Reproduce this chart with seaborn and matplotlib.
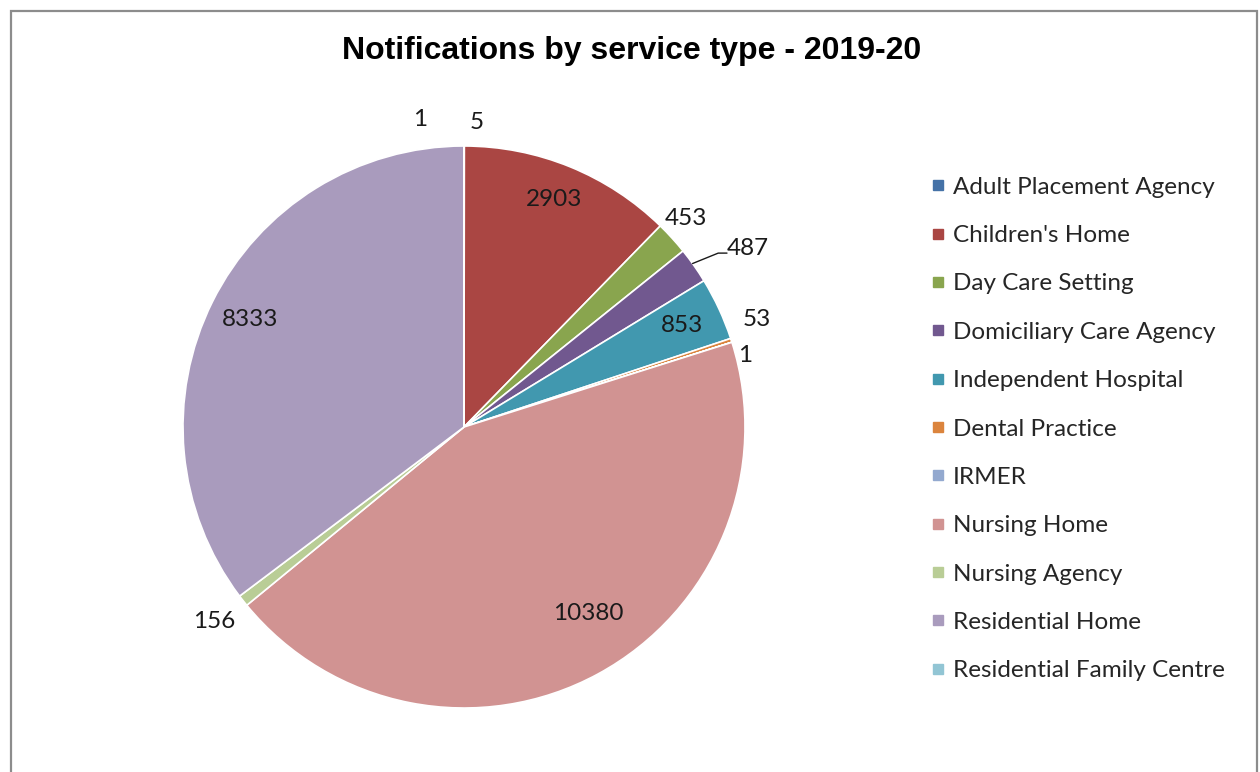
import numpy as np
import matplotlib
matplotlib.use("Agg")
import matplotlib.pyplot as plt
from matplotlib.lines import Line2D
from matplotlib.patches import Rectangle
import seaborn as sns

# ---- data ----
categories = ["Adult Placement Agency", "Children's Home", "Day Care Setting",
              "Domiciliary Care Agency", "Independent Hospital", "Dental Practice",
              "IRMER", "Nursing Home", "Nursing Agency", "Residential Home",
              "Residential Family Centre"]
values = [5, 2903, 453, 487, 853, 53, 1, 10380, 156, 8333, 1]
title = "Notifications by service type - 2019-20"

# ---- style ----
colors = ["#4572A7", "#AA4643", "#89A54E", "#71588F", "#4198AF", "#DB843D",
          "#93A9CF", "#D19392", "#B9CD96", "#A99BBD", "#92C5D4"]
# per-label placement: (radial distance, angular offset in degrees clockwise)
label_pos = [(1.08, 2.3), (0.866, -0.5), (1.08, -0.7), (1.19, 3.0), (0.854, 0.3),
             (1.11, -2.0), (1.03, 3.5), (0.80, -5.0), (1.13, 0.2), (0.85, 0.0),
             (1.10, -8.2)]

sns.set_theme(style="white")
plt.rcParams['font.family'] = ['Lato', 'DejaVu Sans']

fig = plt.figure(figsize=(12.6, 7.72), dpi=100)
fig.patch.set_facecolor("white")

W, H = 1260, 772
cx, cy, R = 464, 427, 281
ax = fig.add_axes([(cx - R) / W, (H - cy - R) / H, 2 * R / W, 2 * R / H])
wedges, _ = ax.pie(values, colors=colors, startangle=90, counterclock=False,
                   radius=1.0, wedgeprops=dict(edgecolor="white", linewidth=1.2))
ax.set_xlim(-1, 1)
ax.set_ylim(-1, 1)
ax.set_aspect("equal")
ax.axis("off")

lbl_font = dict(fontsize=17.5, color="#1a1a1a", family=['Lato', 'DejaVu Sans'])
for w, v, (r, off) in zip(wedges, values, label_pos):
    mid_math = (w.theta1 + w.theta2) / 2.0
    cw = 90 - mid_math + off
    a = np.deg2rad(cw)
    ax.text(r * np.sin(a), r * np.cos(a) + 0.005, f"{v}", ha="center", va="center",
            clip_on=False, **lbl_font)

# leader line for Domiciliary Care Agency label
w = wedges[3]
cw_mid = 90 - (w.theta1 + w.theta2) / 2.0
pts = [(1.0, cw_mid - 0.5), (1.096, cw_mid + 0.7), (1.122, cw_mid + 1.6)]
xs = [r * np.sin(np.deg2rad(c)) for r, c in pts]
ys = [r * np.cos(np.deg2rad(c)) for r, c in pts]
ax.plot(xs, ys, color="#1a1a1a", lw=1.0, clip_on=False)

fig.text(632 / W, 1 - 51 / H, title, ha="center", va="center", color="black",
         fontsize=23, fontweight="bold", family=['Liberation Sans', 'DejaVu Sans'])

handles = [Line2D([0], [0], marker="s", linestyle="none", markersize=7,
                  markerfacecolor=c, markeredgecolor=c) for c in colors]
leg = fig.legend(handles, categories, loc="upper left",
                 bbox_to_anchor=(921 / W, 1 - 167 / H), frameon=False,
                 fontsize=17.5, labelspacing=1.125, handlelength=0.62,
                 handletextpad=0.28, borderaxespad=0)
for t in leg.get_texts():
    t.set_color("#262626")

fig.patches.append(Rectangle((11 / W, -0.05), (1257 - 11) / W, 1.05 - 11 / H,
                             transform=fig.transFigure, fill=False,
                             edgecolor="#8c8c8c", linewidth=1.6))

fig.savefig("out.png", dpi=100)
